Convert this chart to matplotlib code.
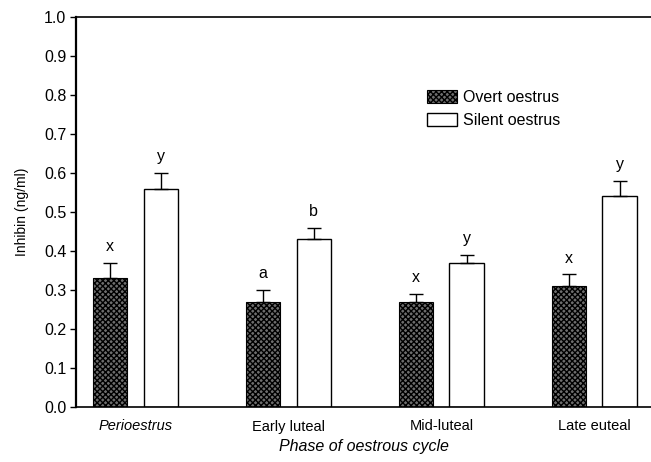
import matplotlib.pyplot as plt
import numpy as np

plt.rcParams['font.family'] = ['Liberation Sans', 'DejaVu Sans']
plt.rcParams['hatch.linewidth'] = 1.0

# inhibin per phase (ng/ml), mean and SE
phases = ["Perioestrus", "Early luteal", "Mid-luteal", "Late euteal"]
overt = [0.33, 0.27, 0.27, 0.31]
overt_se = [0.04, 0.03, 0.02, 0.03]
silent = [0.56, 0.43, 0.37, 0.54]
silent_se = [0.04, 0.03, 0.02, 0.04]
overt_tags = ["x", "a", "x", "x"]
silent_tags = ["y", "b", "y", "y"]

x = np.arange(len(phases))
w = 0.225
off = 0.165

fig = plt.figure(figsize=(6.51, 4.62), dpi=100)
ax = fig.add_axes([76 / 651, 1 - 407 / 462, 1 - 76 / 651, 390 / 462])

ax.bar(x - off, overt, w, facecolor="#6e6e6e", edgecolor="black",
       hatch="xxxxxx", linewidth=0.8, label="Overt oestrus")
ax.bar(x + off, silent, w, facecolor="white", edgecolor="black",
       linewidth=1.0, label="Silent oestrus")

ax.errorbar(x - off, overt, yerr=[np.zeros(4), overt_se], fmt="none",
            ecolor="black", elinewidth=1.0, capsize=5, capthick=1.0)
ax.errorbar(x + off, silent, yerr=[np.zeros(4), silent_se], fmt="none",
            ecolor="black", elinewidth=1.0, capsize=5, capthick=1.0)

for xi, v, e, t in zip(x - off, overt, overt_se, overt_tags):
    ax.text(xi, v + e + 0.022, t, ha="center", va="bottom", fontsize=11.5)
for xi, v, e, t in zip(x + off, silent, silent_se, silent_tags):
    ax.text(xi, v + e + 0.022, t, ha="center", va="bottom", fontsize=11.5)

ax.set_xlim(-0.389, 3.37)
ax.set_ylim(0, 1.0)
ax.set_yticks(np.arange(0, 1.01, 0.1))
ax.set_yticklabels([f"{v:.1f}" for v in np.arange(0, 1.01, 0.1)], fontsize=11.5)
ax.set_xticks(x)
ax.set_xticklabels(phases, fontsize=10.5)
ax.get_xticklabels()[0].set_style("italic")
ax.tick_params(axis="x", length=0, pad=9)
ax.tick_params(axis="y", length=4, width=1.0, direction="out", pad=3)

ax.spines["right"].set_visible(False)
ax.spines["left"].set_linewidth(1.6)
ax.spines["top"].set_linewidth(1.2)
ax.spines["bottom"].set_linewidth(1.2)

ax.set_ylabel("Inhibin (ng/ml)", fontsize=10, labelpad=11)
ax.set_xlabel("Phase of oestrous cycle", fontsize=11.5, style="italic", labelpad=4)

ax.legend(loc="upper left", bbox_to_anchor=(0.585, 0.85), frameon=False,
          fontsize=11.5, handlelength=1.9, handleheight=0.85, handletextpad=0.4,
          labelspacing=0.5)

fig.savefig("out.png", dpi=100)
